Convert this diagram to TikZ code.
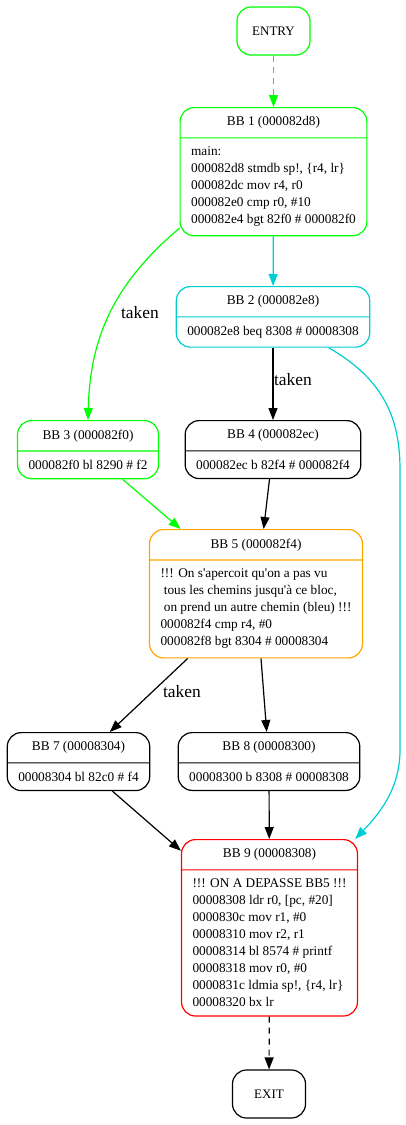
\documentclass[tikz,border=0pt]{standalone}
\usepackage{fontspec}
\newfontfamily\bbfont{Liberation Serif}
\usepackage{tikz}
\usetikzlibrary{shapes.multipart, arrows.meta}
\definecolor{bbgreen}{RGB}{0,255,0}
\definecolor{bbcyan}{RGB}{0,206,209}
\definecolor{bborange}{RGB}{255,165,0}
\definecolor{bbred}{RGB}{255,0,0}

\begin{document}
\begin{tikzpicture}[x=1pt, y=-1pt, line width=1.2pt,
    bb/.style={draw, rectangle split, rectangle split parts=2, rounded corners=14pt,
      align=left, rectangle split part align={center,left},
      inner xsep=11pt, inner ysep=8.5pt, anchor=north,
      font=\bbfont\fontsize{13.3}{17}\selectfont},
    term/.style={draw, rounded corners=14pt, minimum width=73pt, minimum height=48pt,
      font=\bbfont\fontsize{13}{17}\selectfont},
    lbl/.style={font=\bbfont\fontsize{17.4}{20}\selectfont},
    arr/.style={-{Triangle[length=12pt, width=9pt]}},
    dsh/.style={dash pattern=on 6pt off 5pt}]
    \useasboundingbox (0,0) rectangle (405,1125);
    % Blocos
    \node[term, draw=bbgreen] (entry) at (273.5,31) {ENTRY};
    \node[bb, draw=bbgreen] (bb1) at (273.5,107) {BB 1 (000082d8)
      \nodepart{two} main:\\ 000082d8 stmdb sp!, \{r4, lr\}\\ 000082dc mov r4, r0\\
      000082e0 cmp r0, \#10\\ 000082e4 bgt 82f0 \# 000082f0};
    \node[bb, draw=bbcyan] (bb2) at (273,286) {BB 2 (000082e8)
      \nodepart{two} 000082e8 beq 8308 \# 00008308};
    \node[bb, draw=bbgreen] (bb3) at (88,420) {BB 3 (000082f0)
      \nodepart{two} 000082f0 bl 8290 \# f2};
    \node[bb] (bb4) at (273,420) {BB 4 (000082ec)
      \nodepart{two} 000082ec b 82f4 \# 000082f4};
    \node[bb, draw=bborange] (bb5) at (256,529) {BB 5 (000082f4)
      \nodepart{two} !!! On s'apercoit qu'on a pas vu\\
      \hspace*{3.3pt}tous les chemins jusqu'à ce bloc,\\
      \hspace*{3.3pt}on prend un autre chemin (bleu) !!!\\
      000082f4 cmp r4, \#0\\ 000082f8 bgt 8304 \# 00008304};
    \node[bb] (bb7) at (78.5,732) {BB 7 (00008304)
      \nodepart{two} 00008304 bl 82c0 \# f4};
    \node[bb] (bb8) at (269,732) {BB 8 (00008300)
      \nodepart{two} 00008300 b 8308 \# 00008308};
    \node[bb, draw=bbred] (bb9) at (269.5,839) {BB 9 (00008308)
      \nodepart{two} !!! ON A DEPASSE BB5 !!!\\ 00008308 ldr r0, [pc, \#20]\\
      0000830c mov r1, \#0\\ 00008310 mov r2, r1\\ 00008314 bl 8574 \# printf\\
      00008318 mov r0, \#0\\ 0000831c ldmia sp!, \{r4, lr\}\\ 00008320 bx lr};
    \node[term] (exit) at (269,1094) {EXIT};
    % Arestas
    \draw[arr, dsh, bbgreen] (entry) -- (bb1);
    \draw[arr, bbcyan] (bb1) -- (bb2);
    \draw[arr, bbgreen] (bb1.211) .. controls (112,285) and (90,340) .. (bb3.north);
    \draw[arr] (bb2) -- (bb4);
    \draw[arr, bbcyan] (bb2.331) .. controls (385,380) and (400,420) .. (400,470)
      -- (400,750) .. controls (400,790) and (378,815) .. (bb9.46);
    \draw[arr, bbgreen] (bb3) -- (bb5);
    \draw[arr] (bb4) -- (bb5);
    \draw[arr] (bb5) -- (bb7);
    \draw[arr] (bb5) -- (bb8);
    \draw[arr] (bb7) -- (bb9);
    \draw[arr] (bb8) -- (bb9);
    \draw[arr, dsh] (bb9) -- (exit);
    % Rotulos
    \node[lbl] (tk1) at (140,313) {taken};
    \node[lbl] (tk2) at (293,380) {taken};
    \node[lbl] (tk3) at (182,692) {taken};
\end{tikzpicture}
\end{document}
